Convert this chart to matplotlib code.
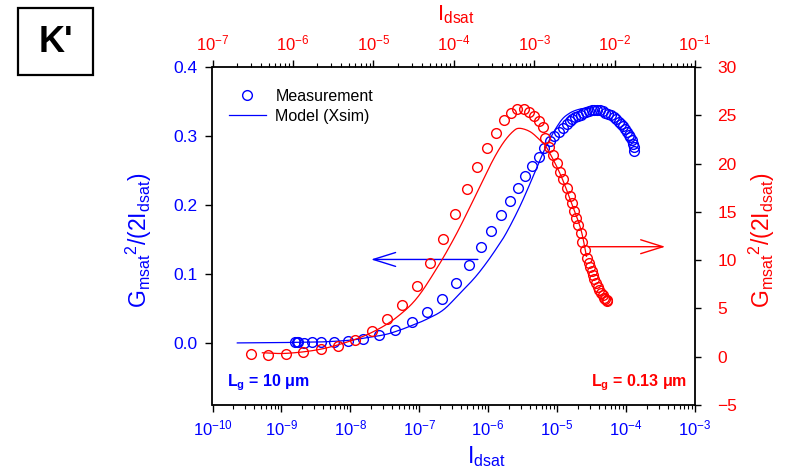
import numpy as np
import matplotlib
matplotlib.use("Agg")
import matplotlib.pyplot as plt
from matplotlib.patches import Rectangle
from matplotlib.ticker import (LogLocator, MultipleLocator, FormatStrFormatter,
                               NullFormatter, FuncFormatter)

plt.rcParams['font.family'] = ['Liberation Sans', 'DejaVu Sans']
plt.rcParams['mathtext.fontset'] = 'custom'
plt.rcParams['mathtext.rm'] = 'Liberation Sans'
plt.rcParams['mathtext.bf'] = 'Liberation Sans:bold'
plt.rcParams['mathtext.it'] = 'Liberation Sans:italic'
plt.rcParams['mathtext.default'] = 'regular'

BLUE = '#0000ff'
RED = '#ff0000'

# Lg = 10 um device (bottom / left axes): log10(Idsat) and Gmsat^2/(2 Idsat)
blue_meas_logI = [-8.80, -8.78, -8.76, -8.67, -8.56, -8.42, -8.24, -8.04, -7.81, -7.58,
                  -7.35, -7.11, -6.89, -6.67, -6.47, -6.28, -6.11, -5.96, -5.82, -5.69,
                  -5.57, -5.46, -5.36, -5.27, -5.19, -5.11, -5.04, -4.97, -4.91, -4.86,
                  -4.82, -4.78, -4.74, -4.70, -4.66, -4.62, -4.58, -4.54, -4.50, -4.46,
                  -4.42, -4.38, -4.34, -4.30, -4.26, -4.22, -4.18, -4.14, -4.10, -4.07,
                  -4.04, -4.01, -3.98, -3.96, -3.94, -3.92, -3.90, -3.89, -3.88]
blue_meas_val = [0.001, 0.001, 0.001, 0.0005, 0.0008, 0.001, 0.0015, 0.003, 0.006, 0.011,
                 0.019, 0.030, 0.045, 0.064, 0.087, 0.113, 0.139, 0.162, 0.185, 0.206,
                 0.225, 0.242, 0.257, 0.270, 0.282, 0.292, 0.300, 0.306, 0.311, 0.318,
                 0.321, 0.324, 0.327, 0.329, 0.331, 0.333, 0.335, 0.336, 0.337, 0.338,
                 0.338, 0.337, 0.336, 0.334, 0.332, 0.330, 0.327, 0.324, 0.320, 0.317,
                 0.314, 0.310, 0.306, 0.302, 0.298, 0.294, 0.289, 0.284, 0.278]
blue_model_logI = [-9.64, -9.2, -8.8, -8.4, -8.0, -7.8, -7.5, -7.3, -7.14, -6.9, -6.65,
                   -6.41, -6.2, -6.03, -5.88, -5.74, -5.54, -5.35, -5.16, -4.96, -4.82,
                   -4.67, -4.55, -4.49]
blue_model_val = [0.0, 0.0003, 0.0008, 0.0015, 0.004, 0.007, 0.012, 0.018, 0.024, 0.034,
                  0.048, 0.072, 0.094, 0.1155, 0.137, 0.159, 0.198, 0.241, 0.285, 0.320,
                  0.333, 0.339, 0.340, 0.339]

# Lg = 0.13 um device (top / right axes)
red_meas_logI = [-6.52, -6.31, -6.09, -5.87, -5.65, -5.44, -5.23, -5.02, -4.83, -4.64,
                 -4.46, -4.29, -4.13, -3.98, -3.84, -3.71, -3.59, -3.48, -3.38, -3.29,
                 -3.21, -3.13, -3.06, -3.00, -2.94, -2.89, -2.86, -2.82, -2.76, -2.72,
                 -2.68, -2.64, -2.59, -2.56, -2.53, -2.50, -2.48, -2.45, -2.42, -2.40,
                 -2.37, -2.34, -2.32, -2.30, -2.285, -2.27, -2.25, -2.23, -2.21, -2.19,
                 -2.17, -2.15, -2.135, -2.12, -2.10, -2.09]
red_meas_val = [0.25, 0.14, 0.25, 0.45, 0.76, 1.11, 1.73, 2.66, 3.90, 5.39,
                7.32, 9.67, 12.16, 14.78, 17.33, 19.64, 21.58, 23.13, 24.51, 25.27,
                25.65, 25.62, 25.37, 24.89, 24.41, 23.79, 22.61, 21.74, 20.88, 20.02,
                19.15, 18.36, 17.43, 16.64, 15.88, 15.12, 14.33, 13.64, 12.78, 11.91,
                11.05, 10.19, 9.70, 9.32, 8.90, 8.46, 8.00, 7.59, 7.20, 6.90,
                6.60, 6.38, 6.10, 5.93, 5.85, 5.79]
red_model_logI = [-6.38, -6.08, -5.66, -5.25, -4.96, -4.71, -4.46, -4.20, -4.00, -3.84,
                  -3.67, -3.51, -3.38, -3.26, -3.18, -3.05, -2.93, -2.84, -2.68, -2.55,
                  -2.42, -2.35]
red_model_val = [0.41, 0.35, 0.77, 1.73, 2.76, 4.08, 6.05, 9.3, 12.2, 14.8,
                 17.7, 20.4, 22.2, 23.35, 23.65, 23.30, 22.44, 21.58, 18.99, 16.23,
                 13.2, 10.4]


def smooth_path(xs, ys, n=12):
    """Catmull-Rom curve through the given vertices."""
    p = np.column_stack([xs, ys]).astype(float)
    p = np.vstack([2 * p[0] - p[1], p, 2 * p[-1] - p[-2]])
    out = []
    t = np.linspace(0, 1, n, endpoint=False)[:, None]
    for i in range(1, len(p) - 2):
        p0, p1, p2, p3 = p[i - 1], p[i], p[i + 1], p[i + 2]
        seg = 0.5 * ((2 * p1) + (-p0 + p2) * t + (2 * p0 - 5 * p1 + 4 * p2 - p3) * t ** 2
                     + (-p0 + 3 * p1 - 3 * p2 + p3) * t ** 3)
        out.append(seg)
    out.append(p[-2][None, :])
    out = np.vstack(out)
    return out[:, 0], out[:, 1]


def decade_label(v, _pos):
    return r'10$^{%d}$' % int(round(np.log10(v)))


W, H = 791, 474
fig = plt.figure(figsize=(W / 100, H / 100), dpi=100)

x0, x1, y0, y1 = 212.5, 695.0, 67.0, 405.0
pos = [x0 / W, 1 - y1 / H, (x1 - x0) / W, (y1 - y0) / H]

ax = fig.add_axes(pos)
axr = fig.add_axes(pos, frameon=False)
axr.patch.set_visible(False)

# --- bottom / left axes (blue) ---
ax.set_xscale('log')
ax.set_xlim(1e-10, 1e-3)
ax.set_ylim(-0.09, 0.4)
ax.xaxis.set_major_locator(LogLocator(base=10, numticks=20))
ax.xaxis.set_major_formatter(FuncFormatter(decade_label))
ax.xaxis.set_minor_locator(LogLocator(base=10, subs=np.arange(2, 10), numticks=20))
ax.xaxis.set_minor_formatter(NullFormatter())
ax.yaxis.set_major_locator(MultipleLocator(0.1))
ax.yaxis.set_major_formatter(FormatStrFormatter('%.1f'))
ax.tick_params(axis='x', which='major', direction='out', length=5, width=1,
               labelsize=12, labelcolor=BLUE, pad=5)
ax.tick_params(axis='x', which='minor', direction='out', length=3, width=0.8)
ax.tick_params(axis='y', which='major', direction='out', length=5, width=1,
               labelsize=12.5, labelcolor=BLUE, pad=6)
for s in ax.spines.values():
    s.set_linewidth(1.3)

ax.plot(10 ** np.array(blue_meas_logI), blue_meas_val, linestyle='none', marker='o',
        markersize=7, markerfacecolor='none', markeredgecolor=BLUE,
        markeredgewidth=1, label='Measurement')
bx, by = smooth_path(blue_model_logI, blue_model_val)
ax.plot(10 ** bx, by, color=BLUE, lw=0.9, label='Model (Xsim)')

ax.annotate('', xy=(10 ** -7.70, 0.121), xytext=(10 ** -6.15, 0.121),
            arrowprops=dict(arrowstyle='->,head_length=16,head_width=5',
                            mutation_scale=1, color=BLUE, lw=1,
                            shrinkA=0, shrinkB=0))

leg = ax.legend(loc='upper left', bbox_to_anchor=(229 / W, 1 - 89 / H),
                bbox_transform=fig.transFigure, frameon=False, fontsize=11.5,
                handlelength=2.3, handletextpad=0.6, borderpad=0,
                borderaxespad=0, labelspacing=0.3)

# --- top / right axes (red) ---
axr.set_xscale('log')
axr.set_xlim(1e-7, 1e-1)
axr.set_ylim(-5, 30)
axr.xaxis.tick_top()
axr.yaxis.tick_right()
axr.xaxis.set_major_locator(LogLocator(base=10, numticks=20))
axr.xaxis.set_major_formatter(FuncFormatter(decade_label))
axr.xaxis.set_minor_locator(LogLocator(base=10, subs=np.arange(2, 10), numticks=20))
axr.xaxis.set_minor_formatter(NullFormatter())
axr.yaxis.set_major_locator(MultipleLocator(5))
axr.tick_params(axis='x', which='major', direction='out', length=5, width=1,
                labelsize=12, labelcolor=RED, pad=5)
axr.tick_params(axis='x', which='minor', direction='out', length=3, width=0.8)
axr.tick_params(axis='y', which='major', direction='out', length=4, width=1,
                labelsize=12.5, labelcolor=RED, pad=12)

axr.plot(10 ** np.array(red_meas_logI), red_meas_val, linestyle='none', marker='o',
         markersize=7, markerfacecolor='none', markeredgecolor=RED,
         markeredgewidth=1)
rx, ry = smooth_path(red_model_logI, red_model_val)
axr.plot(10 ** rx, ry, color=RED, lw=0.9)

axr.annotate('', xy=(10 ** -1.37, 11.39), xytext=(10 ** -2.33, 11.39),
             arrowprops=dict(arrowstyle='->,head_length=16,head_width=5',
                             mutation_scale=1, color=RED, lw=1,
                             shrinkA=0, shrinkB=0))

# --- axis titles ---
fig.text(139 / W, 1 - 240 / H, r'G$_{msat}$$^{2}$/(2I$_{dsat}$)', color=BLUE,
         fontsize=16.5, rotation=90, ha='center', va='center')
fig.text(762 / W, 1 - 240 / H, r'G$_{msat}$$^{2}$/(2I$_{dsat}$)', color=RED,
         fontsize=16.5, rotation=90, ha='center', va='center')
fig.text(467 / W, 1 - 463 / H, r'I$_{dsat}$', color=BLUE, fontsize=16.5,
         ha='left', va='baseline')
fig.text(437 / W, 1 - 20 / H, r'I$_{dsat}$', color=RED, fontsize=16,
         ha='left', va='baseline')

# --- device annotations ---
fig.text(227 / W, 1 - 386 / H, r'L$_{\mathbf{g}}$ = 10 μm', color=BLUE,
         fontsize=11.5, fontweight='bold', ha='left', va='baseline')
fig.text(687 / W, 1 - 386 / H, r'L$_{\mathbf{g}}$ = 0.13 μm', color=RED,
         fontsize=11.5, fontweight='bold', ha='right', va='baseline')

# --- panel tag ---
fig.patches.append(Rectangle((18.3 / W, 1 - 75 / H), 74.4 / W, 66.7 / H,
                             transform=fig.transFigure, fill=False,
                             edgecolor='black', linewidth=1.6))
fig.text(55.5 / W, 1 - 42 / H, "K'", fontsize=26, fontweight='bold',
         ha='center', va='center')

fig.savefig('out.png', dpi=100)
